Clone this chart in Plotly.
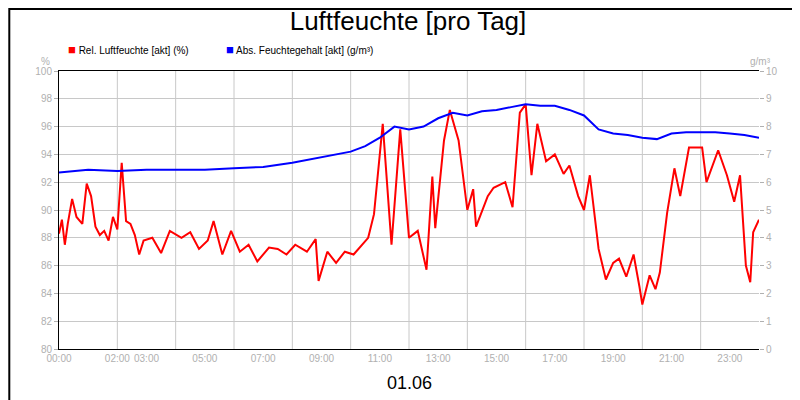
import plotly.graph_objects as go

# hours since midnight and values
rel_hours = [0, 0.1, 0.2, 0.3, 0.45, 0.6, 0.8, 0.95, 1.1, 1.25, 1.4, 1.55, 1.7, 1.85, 2.0, 2.15, 2.3, 2.45, 2.6, 2.75, 2.9,
             3.2, 3.5, 3.8, 4.2, 4.5, 4.8, 5.1, 5.3, 5.6, 5.9, 6.2, 6.5, 6.8, 7.2, 7.5, 7.8, 8.1, 8.5, 8.8, 8.9,
             9.2, 9.5, 9.8, 10.1, 10.4, 10.6, 10.8, 11.1, 11.4, 11.7, 12.0, 12.3, 12.6, 12.8, 12.9, 13.2, 13.4,
             13.7, 14.0, 14.2, 14.3, 14.7, 14.9, 15.3, 15.55, 15.8, 16.0, 16.2, 16.4, 16.7, 17.0, 17.3, 17.5,
             17.8, 18.0, 18.2, 18.5, 18.75, 19.0, 19.2, 19.45, 19.7, 19.9, 20.0, 20.25, 20.45, 20.6, 20.85,
             21.1, 21.3, 21.6, 21.9, 22.05, 22.2, 22.6, 22.9, 23.15, 23.35, 23.55, 23.7, 23.8, 24.0]
rel_values = [88.3, 89.3, 87.5, 89.0, 90.8, 89.5, 89.0, 91.9, 91.0, 88.8, 88.2, 88.5, 87.8, 89.5, 88.6, 93.4, 89.2,
              89.0, 88.2, 86.8, 87.8, 88.0, 86.9, 88.5, 88.0, 88.4, 87.2, 87.8, 89.2, 86.8, 88.5, 87.0, 87.5, 86.3,
              87.3, 87.2, 86.8, 87.5, 87.0, 87.9, 84.9, 87.0, 86.2, 87.0, 86.8, 87.5, 88.0, 89.7, 96.2, 87.5, 95.8,
              88.0, 88.5, 85.7, 92.4, 88.7, 95.0, 97.2, 95.0, 90.0, 91.5, 88.8, 91.0, 91.6, 92.0, 90.2, 97.0, 97.6,
              92.5, 96.2, 93.5, 94.0, 92.6, 93.2, 91.0, 90.0, 92.5, 87.2, 85.0, 86.2, 86.5, 85.2, 86.8, 84.5, 83.2,
              85.3, 84.3, 85.5, 89.8, 93.0, 91.0, 94.5, 94.5, 94.5, 92.0, 94.3, 92.5, 90.6, 92.5, 86.0, 84.8, 88.4,
              89.3]
abs_hours = [0, 1, 2, 3, 4, 5, 6, 7, 8, 8.5, 9, 9.5, 10, 10.5, 11, 11.5, 12, 12.5, 13, 13.5, 14, 14.5, 15,
             15.5, 16, 16.5, 17, 17.5, 18, 18.5, 19, 19.5, 20, 20.5, 21, 21.5, 22, 22.5, 23, 23.5, 24]
abs_values = [6.35, 6.45, 6.4, 6.45, 6.45, 6.45, 6.5, 6.55, 6.7, 6.8, 6.9, 7.0, 7.1, 7.3, 7.6, 8.0, 7.9, 8.0,
              8.3, 8.5, 8.4, 8.55, 8.6, 8.7, 8.8, 8.75, 8.75, 8.6, 8.4, 7.9, 7.75, 7.7, 7.6, 7.55, 7.75, 7.8,
              7.8, 7.8, 7.75, 7.7, 7.6]

tick_vals = [0, 2, 3, 5, 7, 9, 11, 13, 15, 17, 19, 21, 23]
tick_text = [f"{h:02d}:00" for h in tick_vals]

grey = "#b0b0b0"
fig = go.Figure()
fig.add_trace(go.Scatter(x=rel_hours, y=rel_values, mode="lines", line=dict(color="#ff0000", width=2),
                         name="Rel. Luftfeuchte [akt] (%)"))
fig.add_trace(go.Scatter(x=abs_hours, y=abs_values, mode="lines", line=dict(color="#0000ff", width=2),
                         name="Abs. Feuchtegehalt [akt] (g/m³)", yaxis="y2"))

fig.update_layout(
    width=800, height=400,
    margin=dict(l=51, r=49, t=63, b=59, autoexpand=False),
    paper_bgcolor="white", plot_bgcolor="white",
    font=dict(family="Liberation Sans, Arial", size=10, color=grey),
    showlegend=False,
    title=dict(text="Luftfeuchte [pro Tag]", x=0.5, y=0.99, yanchor="top",
               font=dict(size=26, color="black")),
    xaxis=dict(range=[0, 24], tickvals=tick_vals, ticktext=tick_text, showgrid=False, automargin=False,
               showline=True, linecolor="black", mirror=True, ticks="", zeroline=False),
    yaxis=dict(range=[80, 100], dtick=2, gridcolor="#c8c8c8", showline=True, linecolor="black",
               automargin=False, ticks="outside", ticklen=4, tickcolor=grey, zeroline=False),
    yaxis2=dict(range=[0, 10], dtick=1, overlaying="y", side="right", showgrid=False, automargin=False,
                ticks="outside", ticklen=4, tickcolor=grey, zeroline=False),
    shapes=[dict(type="line", xref="x", yref="paper", x0=h, x1=h, y0=0, y1=1,
                 line=dict(color="#c8c8c8", width=1), layer="below") for h in range(2, 24, 2)]
    + [dict(type="rect", xref="paper", yref="paper", x0=-0.071, x1=1.069, y0=-0.209, y1=1.223,
            line=dict(color="black", width=2))],
    annotations=[
        dict(text="01.06", xref="paper", yref="paper", x=0.5, y=-0.165, showarrow=False,
             font=dict(size=18, color="black")),
        dict(text="%", xref="paper", yref="paper", x=-0.01, y=1.06, showarrow=False, xanchor="right"),
        dict(text="g/m³", xref="paper", yref="paper", x=1.02, y=1.06, showarrow=False, xanchor="right"),
        dict(text="<span style='color:#ff0000;font-size:13px'>■</span> Rel. Luftfeuchte [akt] (%)", xref="paper",
             yref="paper", x=0.01, y=1.11, showarrow=False, xanchor="left", font=dict(color="black", size=10)),
        dict(text="<span style='color:#0000ff;font-size:13px'>■</span> Abs. Feuchtegehalt [akt] (g/m³)",
             xref="paper", yref="paper", x=0.235, y=1.11, showarrow=False, xanchor="left",
             font=dict(color="black", size=10)),
    ],
)
fig.write_html("out.html")
